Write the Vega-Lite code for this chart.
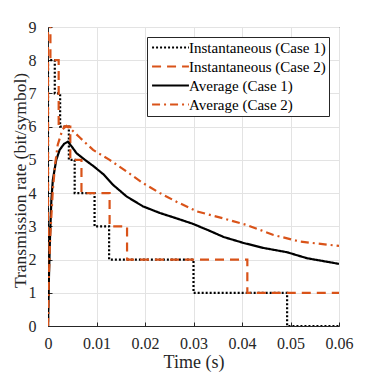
{
  "$schema": "https://vega.github.io/schema/vega-lite/v6.json",
  "autosize": "none",
  "width": 291,
  "height": 299,
  "padding": {"left": 48, "top": 27, "right": 35, "bottom": 48},
  "background": "white",
  "config": {
    "font": "Liberation Serif",
    "view": {"stroke": "#262626", "strokeWidth": 1},
    "axis": {
      "labelFont": "Liberation Serif",
      "labelFontSize": 16,
      "labelColor": "#262626",
      "titleFont": "Liberation Serif",
      "titleFontSize": 18,
      "titleFontWeight": "normal",
      "titleColor": "#262626",
      "domainColor": "#262626",
      "tickColor": "#262626",
      "gridColor": "#e3e3e3",
      "gridOpacity": 1
    },
    "legend": {
      "labelFont": "Liberation Serif",
      "labelFontSize": 15,
      "labelColor": "#000000"
    }
  },
  "data": {
    "values": [
      {"s": "Instantaneous (Case 1)", "o": 1, "t": 0, "v": 0},
      {"s": "Instantaneous (Case 1)", "o": 2, "t": 0, "v": 8},
      {"s": "Instantaneous (Case 1)", "o": 3, "t": 0.0014, "v": 8},
      {"s": "Instantaneous (Case 1)", "o": 4, "t": 0.0014, "v": 7},
      {"s": "Instantaneous (Case 1)", "o": 5, "t": 0.0025, "v": 7},
      {"s": "Instantaneous (Case 1)", "o": 6, "t": 0.0025, "v": 6},
      {"s": "Instantaneous (Case 1)", "o": 7, "t": 0.0043, "v": 6},
      {"s": "Instantaneous (Case 1)", "o": 8, "t": 0.0043, "v": 5},
      {"s": "Instantaneous (Case 1)", "o": 9, "t": 0.0055, "v": 5},
      {"s": "Instantaneous (Case 1)", "o": 10, "t": 0.0055, "v": 4},
      {"s": "Instantaneous (Case 1)", "o": 11, "t": 0.0096, "v": 4},
      {"s": "Instantaneous (Case 1)", "o": 12, "t": 0.0096, "v": 3},
      {"s": "Instantaneous (Case 1)", "o": 13, "t": 0.0126, "v": 3},
      {"s": "Instantaneous (Case 1)", "o": 14, "t": 0.0126, "v": 2},
      {"s": "Instantaneous (Case 1)", "o": 15, "t": 0.030, "v": 2},
      {"s": "Instantaneous (Case 1)", "o": 16, "t": 0.030, "v": 1},
      {"s": "Instantaneous (Case 1)", "o": 17, "t": 0.0493, "v": 1},
      {"s": "Instantaneous (Case 1)", "o": 18, "t": 0.0493, "v": 0},
      {"s": "Instantaneous (Case 1)", "o": 19, "t": 0.06, "v": 0},

      {"s": "Instantaneous (Case 2)", "o": 1, "t": 0, "v": 0},
      {"s": "Instantaneous (Case 2)", "o": 2, "t": 0, "v": 10},
      {"s": "Instantaneous (Case 2)", "o": 3, "t": 0.0005, "v": 10},
      {"s": "Instantaneous (Case 2)", "o": 4, "t": 0.0005, "v": 8},
      {"s": "Instantaneous (Case 2)", "o": 5, "t": 0.0022, "v": 8},
      {"s": "Instantaneous (Case 2)", "o": 6, "t": 0.0022, "v": 6},
      {"s": "Instantaneous (Case 2)", "o": 7, "t": 0.0046, "v": 6},
      {"s": "Instantaneous (Case 2)", "o": 8, "t": 0.0046, "v": 5},
      {"s": "Instantaneous (Case 2)", "o": 9, "t": 0.0069, "v": 5},
      {"s": "Instantaneous (Case 2)", "o": 10, "t": 0.0069, "v": 4},
      {"s": "Instantaneous (Case 2)", "o": 11, "t": 0.0127, "v": 4},
      {"s": "Instantaneous (Case 2)", "o": 12, "t": 0.0127, "v": 3},
      {"s": "Instantaneous (Case 2)", "o": 13, "t": 0.0163, "v": 3},
      {"s": "Instantaneous (Case 2)", "o": 14, "t": 0.0163, "v": 2},
      {"s": "Instantaneous (Case 2)", "o": 15, "t": 0.0411, "v": 2},
      {"s": "Instantaneous (Case 2)", "o": 16, "t": 0.0411, "v": 1},
      {"s": "Instantaneous (Case 2)", "o": 17, "t": 0.06, "v": 1},

      {"s": "Average (Case 1)", "o": 1, "t": 0, "v": 0},
      {"s": "Average (Case 1)", "o": 2, "t": 0.0002, "v": 1.5},
      {"s": "Average (Case 1)", "o": 3, "t": 0.0004, "v": 2.6},
      {"s": "Average (Case 1)", "o": 4, "t": 0.0007, "v": 3.8},
      {"s": "Average (Case 1)", "o": 5, "t": 0.001, "v": 4.4},
      {"s": "Average (Case 1)", "o": 6, "t": 0.0017, "v": 5.0},
      {"s": "Average (Case 1)", "o": 7, "t": 0.0024, "v": 5.3},
      {"s": "Average (Case 1)", "o": 8, "t": 0.0033, "v": 5.48},
      {"s": "Average (Case 1)", "o": 9, "t": 0.0041, "v": 5.55},
      {"s": "Average (Case 1)", "o": 10, "t": 0.0049, "v": 5.4},
      {"s": "Average (Case 1)", "o": 11, "t": 0.0059, "v": 5.2},
      {"s": "Average (Case 1)", "o": 12, "t": 0.0079, "v": 4.97},
      {"s": "Average (Case 1)", "o": 13, "t": 0.0093, "v": 4.82},
      {"s": "Average (Case 1)", "o": 14, "t": 0.0114, "v": 4.57},
      {"s": "Average (Case 1)", "o": 15, "t": 0.0134, "v": 4.25},
      {"s": "Average (Case 1)", "o": 16, "t": 0.0162, "v": 3.9},
      {"s": "Average (Case 1)", "o": 17, "t": 0.0196, "v": 3.6},
      {"s": "Average (Case 1)", "o": 18, "t": 0.0231, "v": 3.4},
      {"s": "Average (Case 1)", "o": 19, "t": 0.0265, "v": 3.24},
      {"s": "Average (Case 1)", "o": 20, "t": 0.0298, "v": 3.08},
      {"s": "Average (Case 1)", "o": 21, "t": 0.0334, "v": 2.86},
      {"s": "Average (Case 1)", "o": 22, "t": 0.0362, "v": 2.68},
      {"s": "Average (Case 1)", "o": 23, "t": 0.0403, "v": 2.5},
      {"s": "Average (Case 1)", "o": 24, "t": 0.0444, "v": 2.35},
      {"s": "Average (Case 1)", "o": 25, "t": 0.0493, "v": 2.22},
      {"s": "Average (Case 1)", "o": 26, "t": 0.0534, "v": 2.04},
      {"s": "Average (Case 1)", "o": 27, "t": 0.06, "v": 1.87},

      {"s": "Average (Case 2)", "o": 1, "t": 0, "v": 0},
      {"s": "Average (Case 2)", "o": 2, "t": 0.0002, "v": 1.6},
      {"s": "Average (Case 2)", "o": 3, "t": 0.0005, "v": 2.8},
      {"s": "Average (Case 2)", "o": 4, "t": 0.001, "v": 4.1},
      {"s": "Average (Case 2)", "o": 5, "t": 0.0015, "v": 4.9},
      {"s": "Average (Case 2)", "o": 6, "t": 0.002, "v": 5.45},
      {"s": "Average (Case 2)", "o": 7, "t": 0.003, "v": 5.92},
      {"s": "Average (Case 2)", "o": 8, "t": 0.0038, "v": 6.02},
      {"s": "Average (Case 2)", "o": 9, "t": 0.0047, "v": 5.93},
      {"s": "Average (Case 2)", "o": 10, "t": 0.0065, "v": 5.68},
      {"s": "Average (Case 2)", "o": 11, "t": 0.0093, "v": 5.3},
      {"s": "Average (Case 2)", "o": 12, "t": 0.0127, "v": 5.0},
      {"s": "Average (Case 2)", "o": 13, "t": 0.0162, "v": 4.65},
      {"s": "Average (Case 2)", "o": 14, "t": 0.0196, "v": 4.3},
      {"s": "Average (Case 2)", "o": 15, "t": 0.0231, "v": 4.0},
      {"s": "Average (Case 2)", "o": 16, "t": 0.0265, "v": 3.74},
      {"s": "Average (Case 2)", "o": 17, "t": 0.0307, "v": 3.45},
      {"s": "Average (Case 2)", "o": 18, "t": 0.0361, "v": 3.24},
      {"s": "Average (Case 2)", "o": 19, "t": 0.041, "v": 3.04},
      {"s": "Average (Case 2)", "o": 20, "t": 0.0465, "v": 2.74},
      {"s": "Average (Case 2)", "o": 21, "t": 0.052, "v": 2.54},
      {"s": "Average (Case 2)", "o": 22, "t": 0.06, "v": 2.41}
    ]
  },
  "mark": {"type": "line", "strokeWidth": 2.2, "clip": true},
  "encoding": {
    "x": {
      "field": "t", "type": "quantitative",
      "scale": {"domain": [0, 0.06], "nice": false},
      "axis": {"values": [0, 0.01, 0.02, 0.03, 0.04, 0.05, 0.06], "format": "~g", "title": "Time (s)", "tickSize": -4, "labelPadding": 13, "titlePadding": 2, "labelFlush": false}
    },
    "y": {
      "field": "v", "type": "quantitative",
      "scale": {"domain": [0, 9], "nice": false},
      "axis": {"values": [0, 1, 2, 3, 4, 5, 6, 7, 8, 9], "title": "Transmission rate (bit/symbol)", "titleFontSize": 17.5, "titleY": 153, "tickSize": -4, "labelPadding": 16, "titlePadding": -1, "labelFlush": false}
    },
    "order": {"field": "o", "type": "quantitative"},
    "color": {
      "field": "s", "type": "nominal",
      "scale": {
        "domain": ["Instantaneous (Case 1)", "Instantaneous (Case 2)", "Average (Case 1)", "Average (Case 2)"],
        "range": ["#000000", "#D95319", "#000000", "#D95319"]
      },
      "legend": {
        "title": null, "orient": "none", "legendX": 99, "legendY": 10,
        "symbolType": "M-4,0H4", "symbolSize": 85, "symbolStrokeWidth": 2.2, "symbolOffset": 13,
        "labelFont": "Liberation Serif", "labelFontSize": 15, "labelColor": "#000000",
        "strokeColor": "#262626", "fillColor": "white", "padding": 3,
        "rowPadding": 3, "labelOffset": 11
      }
    },
    "strokeDash": {
      "field": "s", "type": "nominal",
      "scale": {
        "domain": ["Instantaneous (Case 1)", "Instantaneous (Case 2)", "Average (Case 1)", "Average (Case 2)"],
        "range": [[2, 2], [9, 6], [1, 0], [8, 4, 2, 4]]
      },
      "legend": {
        "title": null, "orient": "none", "legendX": 99, "legendY": 10,
        "symbolType": "M-4,0H4", "symbolSize": 85, "symbolStrokeWidth": 2.2, "symbolOffset": 13,
        "labelFont": "Liberation Serif", "labelFontSize": 15, "labelColor": "#000000",
        "strokeColor": "#262626", "fillColor": "white", "padding": 3,
        "rowPadding": 3, "labelOffset": 11
      }
    }
  }
}
